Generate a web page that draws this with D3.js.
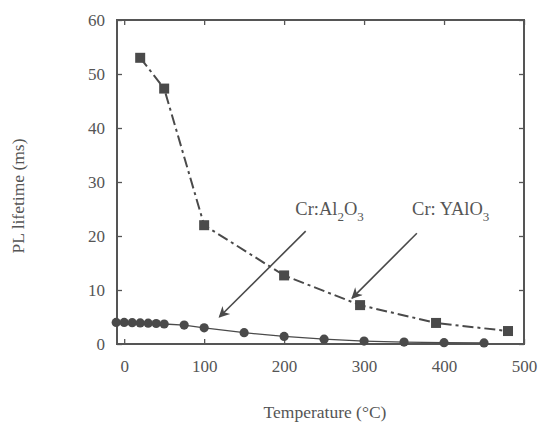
<!DOCTYPE html>
<html>
<head>
<meta charset="utf-8">
<script src="https://cdn.jsdelivr.net/npm/d3@7"></script>
<style>
  body { margin: 0; background: #fff; }
  text { font-family: "Liberation Serif", "Times New Roman", serif; fill: #555; }
</style>
</head>
<body>
<div id="chart"></div>
<script>
// Cr:YAlO3 lifetime (squares, dash-dot line)
var yalTemps = [20, 50, 100, 200, 295, 390, 480];
var yalLife  = [53, 47.3, 22, 12.7, 7.2, 3.9, 2.4];
// Cr:Al2O3 lifetime (circles, thin solid line)
var alTemps = [-10, 0, 10, 20, 30, 40, 50, 75, 100, 150, 200, 250, 300, 350, 400, 450];
var alLife  = [4.0, 4.0, 3.95, 3.9, 3.85, 3.8, 3.7, 3.5, 3.0, 2.1, 1.4, 0.9, 0.55, 0.35, 0.25, 0.2];
var xTicks = [0, 100, 200, 300, 400, 500];
var yTicks = [0, 10, 20, 30, 40, 50, 60];

var width = 539, height = 426;
var plotLeft = 117, plotRight = 524, plotTop = 20, plotBottom = 344;
var ink = "#4a4a4a";

var svg = d3.select("#chart").append("svg")
   .attr("width", width).attr("height", height);

var x = d3.scaleLinear().domain([-9, 500]).range([plotLeft, plotRight]);
var y = d3.scaleLinear().domain([0, 60]).range([plotBottom, plotTop]);

//ticks point inward on all four sides
var tk = 5;
svg.append("g").attr("transform", "translate(0," + plotBottom + ")")
   .call(d3.axisBottom(x).tickValues(xTicks).tickSize(-tk).tickPadding(16).tickFormat(d3.format("d")))
   .call(function (g) { g.select(".domain").remove(); });
svg.append("g").attr("transform", "translate(0," + plotTop + ")")
   .call(d3.axisTop(x).tickValues(xTicks).tickSize(-tk).tickFormat(""))
   .call(function (g) { g.select(".domain").remove(); });
svg.append("g").attr("transform", "translate(" + plotLeft + ",0)")
   .call(d3.axisLeft(y).tickValues(yTicks).tickSize(-tk).tickPadding(12).tickFormat(d3.format("d")))
   .call(function (g) { g.select(".domain").remove(); });
svg.append("g").attr("transform", "translate(" + plotRight + ",0)")
   .call(d3.axisRight(y).tickValues(yTicks).tickSize(-tk).tickFormat(""))
   .call(function (g) { g.select(".domain").remove(); });

svg.selectAll(".tick line").attr("stroke", "#555").attr("stroke-width", 1.3);
svg.selectAll(".tick text").style("font-size", "17px").attr("fill", "#555")
   .style("font-family", "'Liberation Serif', serif");

//frame
svg.append("rect").attr("x", plotLeft).attr("y", plotTop)
   .attr("width", plotRight - plotLeft).attr("height", plotBottom - plotTop)
   .attr("fill", "none").attr("stroke", "#555").attr("stroke-width", 2);

//Cr:Al2O3 series
var alData = alTemps.map(function (d, i) { return [d, alLife[i]]; });
svg.append("path").datum(alData)
   .attr("d", d3.line().x(function (d) { return x(d[0]); }).y(function (d) { return y(d[1]); }))
   .attr("fill", "none").attr("stroke", ink).attr("stroke-width", 1.3);
svg.selectAll(".circ").data(alData).enter().append("circle")
   .attr("cx", function (d) { return x(d[0]); })
   .attr("cy", function (d) { return y(d[1]); })
   .attr("r", 4.6).attr("fill", ink);

//Cr:YAlO3 series
var yalData = yalTemps.map(function (d, i) { return [d, yalLife[i]]; });
svg.append("path").datum(yalData)
   .attr("d", d3.line().x(function (d) { return x(d[0]); }).y(function (d) { return y(d[1]); }))
   .attr("fill", "none").attr("stroke", ink).attr("stroke-width", 2)
   .attr("stroke-dasharray", "11,4,3,4");
svg.selectAll(".sq").data(yalData).enter().append("rect")
   .attr("x", function (d) { return x(d[0]) - 5; })
   .attr("y", function (d) { return y(d[1]) - 5; })
   .attr("width", 10).attr("height", 10).attr("fill", ink);

//annotation arrows
svg.append("defs").append("marker").attr("id", "head")
   .attr("viewBox", "0 0 10 10").attr("refX", 9).attr("refY", 5)
   .attr("markerWidth", 15).attr("markerHeight", 11).attr("markerUnits", "userSpaceOnUse")
   .attr("orient", "auto")
   .append("path").attr("d", "M0,0 L10,5 L0,10 L3,5 Z").attr("fill", ink);

var arrows = [[227, 20.9, 119, 5.0], [366, 20.5, 285, 8.5]];
svg.selectAll(".arrow").data(arrows).enter().append("line")
   .attr("x1", function (d) { return x(d[0]); }).attr("y1", function (d) { return y(d[1]); })
   .attr("x2", function (d) { return x(d[2]); }).attr("y2", function (d) { return y(d[3]); })
   .attr("stroke", ink).attr("stroke-width", 1.6).attr("marker-end", "url(#head)");

function chem(tx, parts) {
   var t = svg.append("text").attr("x", tx[0]).attr("y", tx[1]).style("font-size", "18.5px");
   parts.forEach(function (p) {
      var s = t.append("tspan").text(p[0]);
      if (p[1]) s.attr("dy", p[1]);
      if (p[1] > 0) s.style("font-size", "13px");
   });
}
chem([x(214), y(23.9)], [["Cr:Al"], ["2", 6], ["O", -6], ["3", 6]]);
chem([x(360), y(23.9)], [["Cr: YAlO"], ["3", 6]]);

//axis titles
svg.append("text").attr("x", 325).attr("y", 418).attr("text-anchor", "middle")
   .style("font-size", "17.5px").text("Temperature (\u00B0C)");
svg.append("text").attr("transform", "translate(24,196) rotate(-90)")
   .attr("text-anchor", "middle").style("font-size", "17.5px").text("PL lifetime (ms)");
</script>
</body>
</html>
